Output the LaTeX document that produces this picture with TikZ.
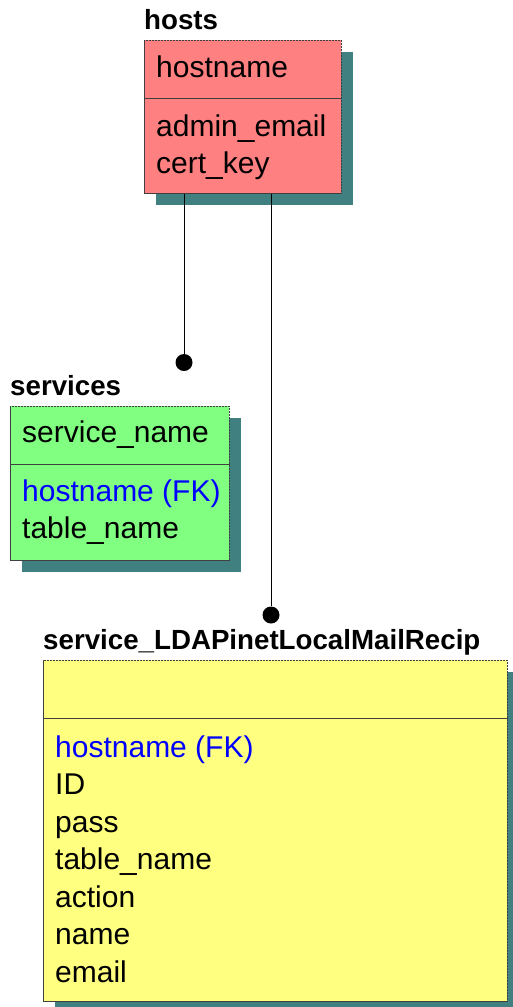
\documentclass[tikz,border=0pt]{standalone}
\usepackage{fontspec}
\setmainfont{Liberation Sans}
\usepackage{xcolor}
\usepackage{tikz}
\usetikzlibrary{positioning}
\usetikzlibrary{shadows}

\definecolor{hostred}{HTML}{FF8080}
\definecolor{svcgreen}{HTML}{80FF80}
\definecolor{ldapyellow}{HTML}{FFFF80}
\definecolor{erdshadow}{HTML}{408080}
\definecolor{fkblue}{HTML}{0000FF}

\tikzset{
  entity/.style={draw=black!75, line width=0.8pt, dash pattern=on 2.5pt off 0.5pt,
    anchor=north west, inner sep=0pt,
    general shadow={fill=erdshadow, shadow xshift=12pt, shadow yshift=-12pt}},
  divider/.style={draw=black!75, line width=0.8pt, dash pattern=on 2.5pt off 0.5pt},
  entname/.style={font=\fontsize{27.7}{32}\selectfont\bfseries, inner sep=0pt, anchor=base west},
  attr/.style={font=\fontsize{30}{36}\selectfont, inner sep=0pt, anchor=base west},
  fkattr/.style={attr, text=fkblue},
  fkdot/.style={circle, fill=black, inner sep=0pt, minimum size=17pt},
  rel/.style={draw=black, line width=0.9pt}
}

\begin{document}
\begin{tikzpicture}[x=1pt, y=-1pt]
            \useasboundingbox (0,0) rectangle (513,1007);
            \clip (0,0) rectangle (513,1007);

            % entities
            \node[entity, fill=hostred, minimum width=197pt, minimum height=153pt] (hosts) at (144,40) {};
            \node[entity, fill=svcgreen, minimum width=219pt, minimum height=154pt] (services) at (10,406) {};
            \node[entity, fill=ldapyellow, minimum width=464pt, minimum height=341pt] (ldap) at (43,660) {};

            \node[entname] (hosts-name) at ([shift={(0,-11)}]hosts.north west) {hosts};
            \node[entname] (services-name) at ([shift={(0,-11)}]services.north west) {services};
            \node[entname] (ldap-name) at ([shift={(0,-11)}]ldap.north west) {service\_LDAPinetLocalMailRecip};

            \draw[divider] ([yshift=-58pt]hosts.north west) -- ([yshift=-58pt]hosts.north east);
            \draw[divider] ([yshift=-58pt]services.north west) -- ([yshift=-58pt]services.north east);
            \draw[divider] ([yshift=-58pt]ldap.north west) -- ([yshift=-58pt]ldap.north east);

            % hosts
            \node[attr] (hosts-key) at ([shift={(12,37)}]hosts.north west) {hostname};
            \node[attr] (hosts-f1) at ([shift={(12,96.5)}]hosts.north west) {admin\_email};
            \node[attr] (hosts-f2) at ([shift={(12,133.5)}]hosts.north west) {cert\_key};

            % services
            \node[attr] (services-key) at ([shift={(12,36)}]services.north west) {service\_name};
            \node[fkattr] (services-fk) at ([shift={(12,95.5)}]services.north west) {hostname (FK)};
            \node[attr] (services-f1) at ([shift={(12,132.5)}]services.north west) {table\_name};

            % service_LDAPinetLocalMailRecip
            \node[fkattr] (ldap-fk) at ([shift={(12,97)}]ldap.north west) {hostname (FK)};
            \foreach \fld [count=\i] in {ID, pass, table\_name, action, name, email}
                \node[attr] (ldap-f\i) at ([shift={(12,97+37.5*\i)}]ldap.north west) {\fld};

            % relationships
            \node[fkdot] (services-dot) at (184,362.5) {};
            \node[fkdot] (ldap-dot) at (271,615) {};

            \draw[rel] (services-dot |- hosts.south) -- (services-dot);
            \draw[rel] (ldap-dot |- hosts.south) -- (ldap-dot);
        \end{tikzpicture}
\end{document}
